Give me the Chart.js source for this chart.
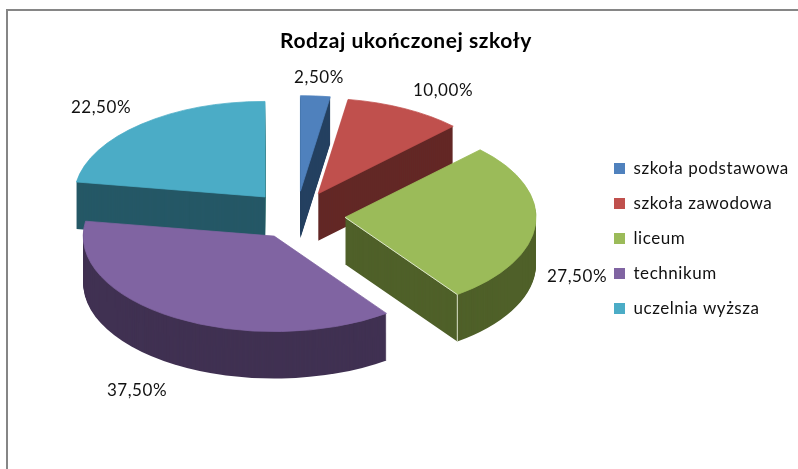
<!DOCTYPE html>
<html><head><meta charset="utf-8">
<style>html,body{margin:0;padding:0;background:#fff;overflow:hidden}
#frame{position:absolute;left:6px;top:9px;width:792px;height:460px;border-left:2px solid #868686;border-top:2px solid #868686;box-sizing:border-box}
#w{position:absolute;left:0;top:0;width:798px;height:469px}</style>
<script src="https://cdn.jsdelivr.net/npm/chart.js@4"></script></head>
<body><div id="frame"></div><div id="w"><canvas id="c" width="798" height="469"></canvas></div>
<script>
const titleText = "Rodzaj ukończonej szkoły";
const categories = ["szkoła podstawowa","szkoła zawodowa","liceum","technikum","uczelnia wyższa"];
const values = [2.5,10,27.5,37.5,22.5];
const valueLabels = ["2,50%","10,00%","27,50%","37,50%","22,50%"];
const colors = ["#4F81BD","#C0504D","#9BBB59","#8064A2","#4BACC6"];
const wallColors = ["#254061","#632826","#4F6029","#403152","#255866"];

const FONT = "Lato, Carlito, sans-serif";
const spacing = "0.55px";
const pie3d = {
  id:"pie3d",
  beforeLayout(chart){chart.ctx.letterSpacing=spacing;},
  afterLayout(chart){
    const l=chart.legend;
    l.left = 614-18;
    l.top = 142;
  },
  beforeDraw(chart){chart.ctx.letterSpacing=spacing;},
  beforeDatasetDraw(chart,args){
    const ctx=chart.ctx, meta=chart.getDatasetMeta(args.index), arcs=meta.data;
    const cx=296.6, cy=215.4, sy=0.5, explode=48.6, depth=47;
    const nudge=[0,-0.5,0,3,0];
    const paintOrder=[0,1,4,2,3];
    const apex=(el,i)=>{
      const m=(el.startAngle+el.endAngle)/2;
      return [cx+nudge[i]+Math.cos(m)*explode, cy+Math.sin(m)*explode*sy];
    };
    const place=(el,i,dy)=>{
      const a=apex(el,i);
      ctx.translate(a[0], a[1]+dy);
      ctx.scale(1,sy);
      ctx.translate(-el.x,-el.y);
    };
    paintOrder.forEach(i=>{
      const el=arcs[i], own=el.options;
      el.options=Object.assign({},own,{backgroundColor:wallColors[i],borderWidth:0});
      for(let k=depth;k>=1;k--){ctx.save();place(el,i,k);el.draw(ctx);ctx.restore();}
      el.options=Object.assign({},own,{backgroundColor:colors[i],borderColor:colors[i],borderWidth:1});
      ctx.save();place(el,i,0);el.draw(ctx);ctx.restore();
      el.options=own;
      if(i===2){
        const a=apex(el,i);
        const bx=a[0]+Math.cos(el.endAngle)*el.outerRadius, by=a[1]+Math.sin(el.endAngle)*el.outerRadius*sy;
        ctx.save();ctx.strokeStyle="#DDE5CC";ctx.lineWidth=1;
        ctx.beginPath();ctx.moveTo(a[0],a[1]);ctx.lineTo(bx,by);ctx.lineTo(bx,by+depth);ctx.stroke();ctx.restore();
      }
    });
    return false;
  },
  afterDraw(chart){
    const ctx=chart.ctx;
    const spots=[[319,77.5],[443,90.5],[577,276.5],[137,390.5],[101,107.5]];
    ctx.save();ctx.font="17px "+FONT;ctx.fillStyle="#111";ctx.textAlign="center";ctx.textBaseline="middle";
    valueLabels.forEach((t,i)=>ctx.fillText(t,spots[i][0],spots[i][1]));
    ctx.restore();
  }
};
new Chart(document.getElementById("c"),{
  type:"pie",
  data:{labels:categories,datasets:[{data:values,backgroundColor:colors,borderWidth:0,hoverOffset:0}]},
  options:{
    responsive:false,animation:false,radius:191,
    layout:{padding:{left:14}},
    plugins:{
      tooltip:{enabled:false},
      title:{display:true,text:titleText,color:"#000",font:{family:FONT,size:21,weight:"bold"},padding:{top:29,bottom:10}},
      legend:{position:"right",align:"start",labels:{boxWidth:11,boxHeight:11,padding:18,color:"#111",font:{family:FONT,size:17}}}
    }
  },
  plugins:[pie3d]
});
</script></body></html>
